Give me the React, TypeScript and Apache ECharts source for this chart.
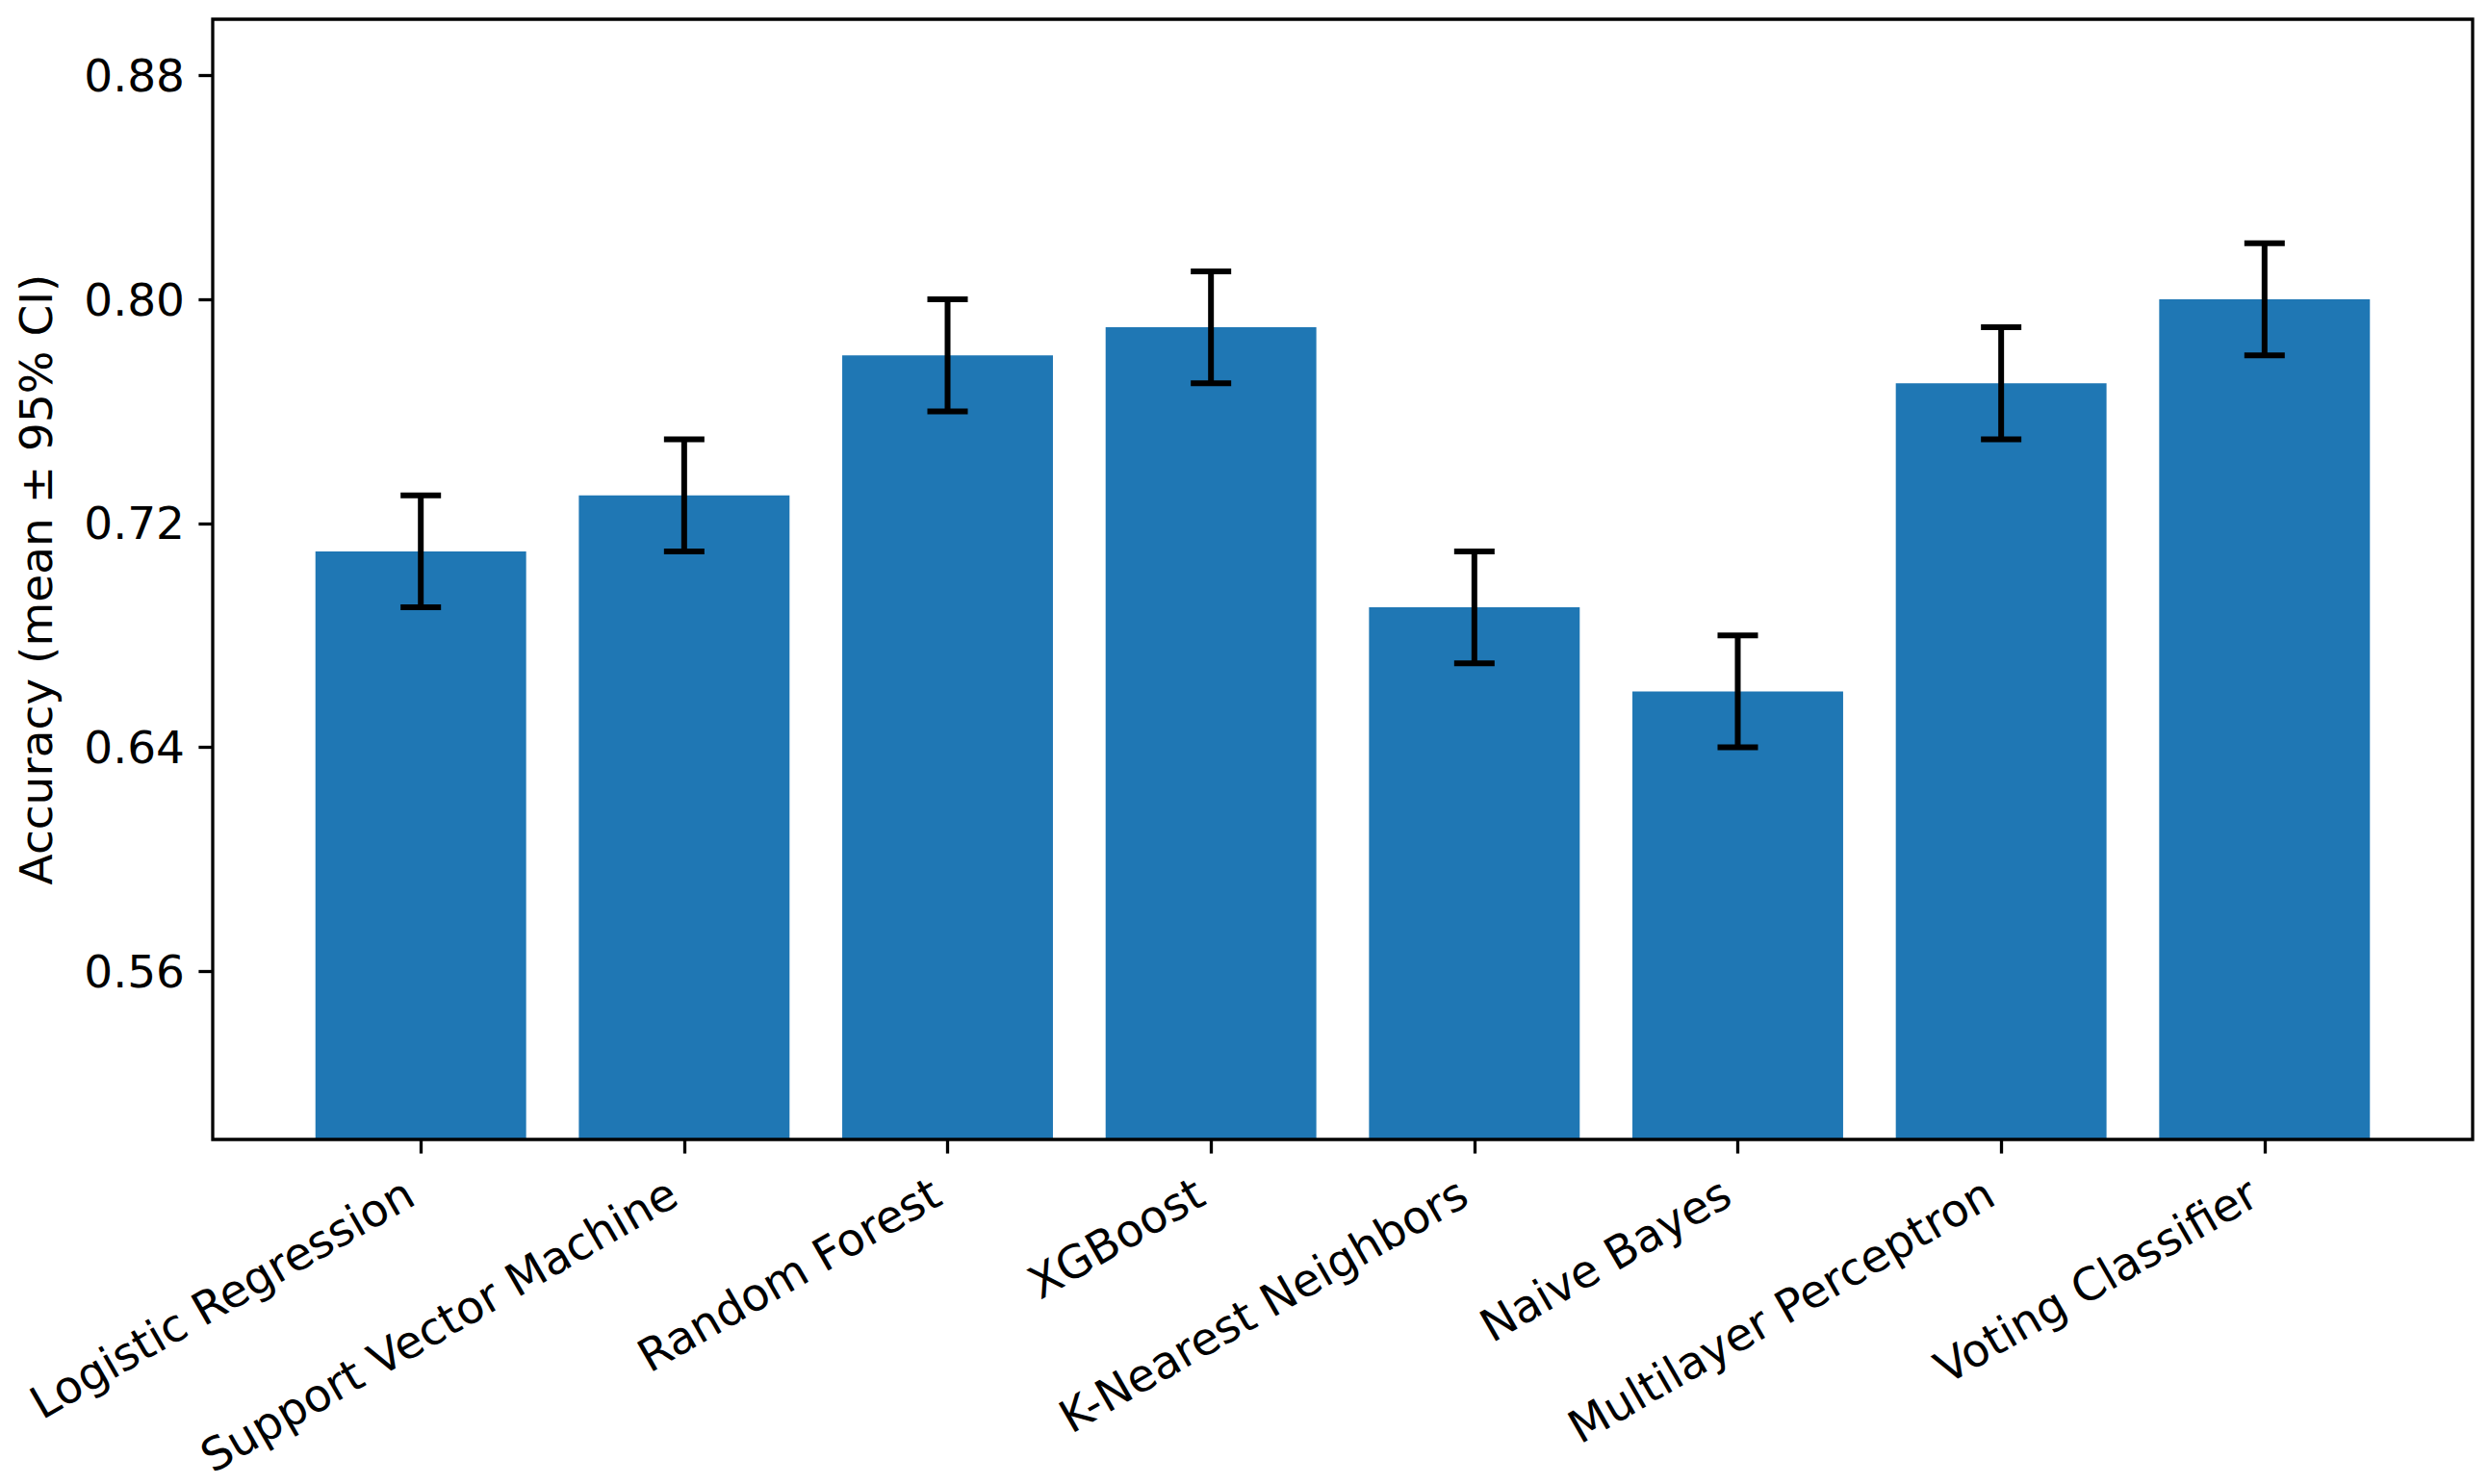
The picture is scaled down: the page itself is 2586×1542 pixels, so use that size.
import React, { useEffect, useRef } from "react";
import * as echarts from "echarts";

const categories = [
  "Logistic Regression",
  "Support Vector Machine",
  "Random Forest",
  "XGBoost",
  "K-Nearest Neighbors",
  "Naive Bayes",
  "Multilayer Perceptron",
  "Voting Classifier",
];
const meanAccuracy = [0.71, 0.73, 0.78, 0.79, 0.69, 0.66, 0.77, 0.8];
const ci95 = [0.02, 0.02, 0.02, 0.02, 0.02, 0.02, 0.02, 0.02];
const yTicks = [0.56, 0.64, 0.72, 0.8, 0.88];
const yMin = 0.5;
const yMax = 0.9;
const yLabel = "Accuracy (mean ± 95% CI)";

const BAR_HALF = 0.4;
const X_MARGIN = 0.39;
const FONT = "'DejaVu Sans', sans-serif";
const FS = 47;

export default function App() {
  const ref = useRef<HTMLDivElement>(null);
  useEffect(() => {
    document.body.style.margin = "0";
    document.body.style.overflow = "hidden";
    if (!ref.current) return;
    const chart = echarts.init(ref.current, undefined, { renderer: "svg" });
    const data = categories.map((_, i) => [i, meanAccuracy[i], ci95[i]]);
    const n = categories.length;
    const xMin = -BAR_HALF - X_MARGIN;
    const xMax = n - 1 + BAR_HALF + X_MARGIN;
    chart.setOption({
      animation: false,
      backgroundColor: "#ffffff",
      grid: {
        left: 221,
        right: 17,
        top: 20,
        bottom: 358,
        show: true,
        borderColor: "#000",
        borderWidth: 3.3,
        backgroundColor: "transparent",
        z: 10,
      },
      xAxis: {
        type: "value",
        min: xMin,
        max: xMax,
        splitLine: { show: false },
        axisLine: { show: false, onZero: false },
        axisTick: {
          show: true,
          customValues: categories.map((_, i) => i),
          length: 14.6,
          lineStyle: { color: "#000", width: 3.3 },
        },
        axisLabel: {
          customValues: categories.map((_, i) => i - 0.042),
          formatter: (v: number) => categories[Math.round(v)] ?? "",
          rotate: 30,
          margin: 52,
          color: "#000",
          fontFamily: FONT,
          fontSize: FS,
        },
      },
      yAxis: {
        type: "value",
        min: yMin,
        max: yMax,
        splitLine: { show: false },
        axisLine: { show: false, onZero: false },
        axisTick: {
          show: true,
          customValues: yTicks,
          length: 14.6,
          lineStyle: { color: "#000", width: 3.3 },
        },
        axisLabel: {
          customValues: yTicks,
          formatter: (v: number) => v.toFixed(2),
          margin: 29,
          color: "#000",
          fontFamily: FONT,
          fontSize: FS,
        },
        name: yLabel,
        nameLocation: "middle",
        nameGap: 160,
        nameTextStyle: { color: "#000", fontFamily: FONT, fontSize: FS },
      },
      series: [
        {
          type: "custom",
          data,
          clip: true,
          renderItem: (params: any, api: any) => {
            const x = api.value(0);
            const v = api.value(1);
            const p0 = api.coord([x - BAR_HALF, v]);
            const p1 = api.coord([x + BAR_HALF, yMin]);
            return {
              type: "rect",
              shape: { x: p0[0], y: p0[1], width: p1[0] - p0[0], height: p1[1] - p0[1] },
              style: { fill: "#1f77b4" },
            };
          },
          z: 2,
        },
        {
          type: "custom",
          data,
          renderItem: (params: any, api: any) => {
            const x = api.value(0);
            const v = api.value(1);
            const e = api.value(2);
            const top = api.coord([x, v + e]);
            const bot = api.coord([x, v - e]);
            const cap = 21;
            const st = { stroke: "#000", lineWidth: 6 };
            return {
              type: "group",
              children: [
                { type: "line", shape: { x1: top[0], y1: top[1], x2: bot[0], y2: bot[1] }, style: st },
                { type: "line", shape: { x1: top[0] - cap, y1: top[1], x2: top[0] + cap, y2: top[1] }, style: st },
                { type: "line", shape: { x1: bot[0] - cap, y1: bot[1], x2: bot[0] + cap, y2: bot[1] }, style: st },
              ],
            };
          },
          z: 3,
        },
      ],
    });
    return () => chart.dispose();
  }, []);
  return <div ref={ref} style={{ width: 2586, height: 1542 }} />;
}
